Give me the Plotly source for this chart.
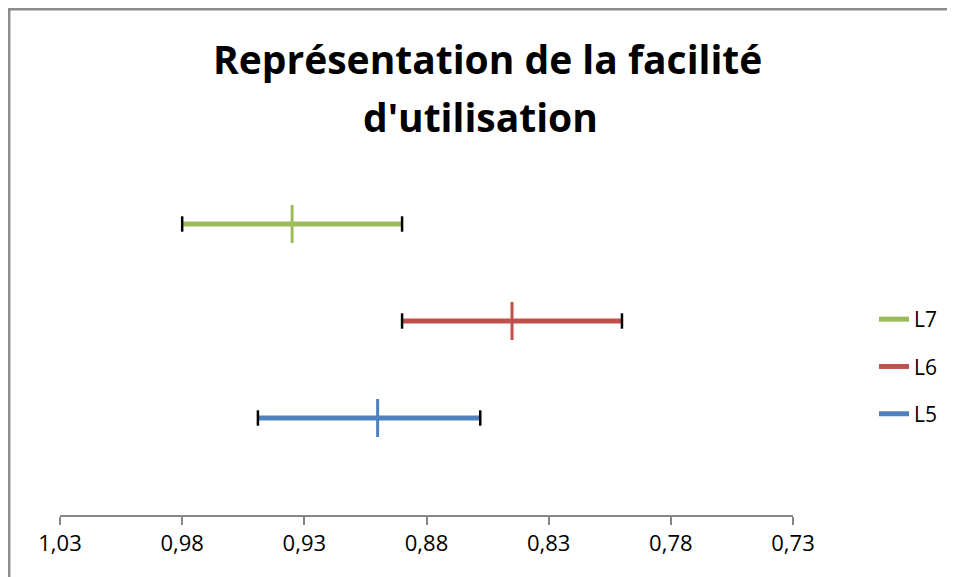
import plotly.graph_objects as go

series = ["L7", "L6", "L5"]
levels = [3, 2, 1]
lower = [0.980, 0.890, 0.949]
center = [0.935, 0.845, 0.900]
upper = [0.890, 0.800, 0.858]
colors = ["#9BBB59", "#C0504D", "#4F81BD"]
tick_vals = [1.03, 0.98, 0.93, 0.88, 0.83, 0.78, 0.73]
title_lines = ["Représentation de la facilité", "d'utilisation"]

# page has an 8px body margin; size the figure to fill the rest of the window
OFF = 8
W, H = 955 - OFF, 577 - OFF
L, R, T, B = 52, 162, 119, 62
pw, ph = W - L - R, H - T - B

def px_x(p):  # p in page pixels
    return (p - OFF - L) / pw

def px_y(p):
    return (H - B - (p - OFF)) / ph

FONT = "Open Sans, Noto Sans, Liberation Sans, sans-serif"

fig = go.Figure()
for i, name in enumerate(series):
    fig.add_trace(go.Scatter(
        x=[lower[i], upper[i]], y=[levels[i], levels[i]], mode="lines",
        line=dict(color=colors[i], width=5), name=name,
        legendgroup=name, showlegend=True))
    fig.add_trace(go.Scatter(
        x=[lower[i], upper[i]], y=[levels[i], levels[i]], mode="markers",
        marker=dict(symbol="line-ns", size=11, line=dict(color="black", width=2.5)),
        showlegend=False, hoverinfo="skip"))
    fig.add_trace(go.Scatter(
        x=[center[i]], y=[levels[i]], mode="markers",
        marker=dict(symbol="cross-thin", size=27, line=dict(color=colors[i], width=3)),
        showlegend=False))

fig.update_layout(
    width=W, height=H,
    margin=dict(l=L, r=R, t=T, b=B),
    paper_bgcolor="white", plot_bgcolor="white",
    separators=", ",
    font=dict(family=FONT, color="black", size=21),
    showlegend=True,
    legend=dict(x=px_x(874), y=px_y(299), xanchor="left", yanchor="top",
                font=dict(size=21), tracegroupgap=17, bgcolor="rgba(0,0,0,0)"),
    xaxis=dict(range=[1.03, 0.73], tickvals=tick_vals, tickformat=".2f",
               showgrid=False, zeroline=False, showline=True,
               linecolor="#868686", linewidth=2,
               ticks="outside", ticklen=8, tickcolor="#868686", tickwidth=2,
               tickfont=dict(size=22), anchor="y", position=0),
    yaxis=dict(range=[0, 4], visible=False, showgrid=False, zeroline=False),
)

fig.add_annotation(text="<b>" + title_lines[0] + "</b>", x=px_x(487), y=px_y(59),
                   xref="paper", yref="paper", showarrow=False,
                   xanchor="center", yanchor="middle", font=dict(size=39))
fig.add_annotation(text="<b>" + title_lines[1] + "</b>", x=px_x(480), y=px_y(116),
                   xref="paper", yref="paper", showarrow=False,
                   xanchor="center", yanchor="middle", font=dict(size=39))

fig.add_shape(type="rect", xref="paper", yref="paper",
              x0=px_x(9.2), x1=px_x(980), y0=px_y(600), y1=px_y(9.2),
              line=dict(color="#8C8C8C", width=2.5), layer="above")

fig.write_html("out.html")
